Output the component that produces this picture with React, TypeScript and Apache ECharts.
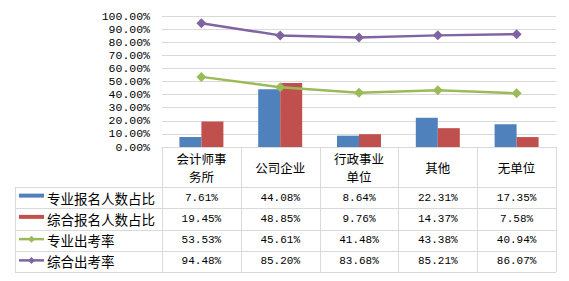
import React, { useEffect, useRef } from "react";
import * as echarts from "echarts";

const categories = ["会计师事\n务所", "公司企业", "行政事业\n单位", "其他", "无单位"];
const seriesNames = ["专业报名人数占比", "综合报名人数占比", "专业出考率", "综合出考率"];
const proApply = [7.61, 44.08, 8.64, 22.31, 17.35];
const compApply = [19.45, 48.85, 9.76, 14.37, 7.58];
const proAttend = [53.53, 45.61, 41.48, 43.38, 40.94];
const compAttend = [94.48, 85.2, 83.68, 85.21, 86.07];
const yTicks = [0, 10, 20, 30, 40, 50, 60, 70, 80, 90, 100];

const colors = ["#4F81BD", "#C0504D", "#9BBB59", "#8064A2"];

export default function App() {
  const ref = useRef<HTMLDivElement>(null);
  useEffect(() => {
    if (!ref.current) return;
    const chart = echarts.init(ref.current, null, { renderer: "svg" });
    const W = 569;
    const gL = 162, gR = 556, gT = 16, gB = 147;
    const cw = (gR - gL) / categories.length;
    const headBottom = 187;
    const tableBottom = 272;
    const rowH = (tableBottom - headBottom) / 4;
    const legL = 15;
    const lineColor = "#d9d9d9";
    const allData = [proApply, compApply, proAttend, compAttend];
    const cjk = '"Noto Sans CJK SC", sans-serif';
    const mono = '"Liberation Mono", monospace';

    const graphics: any[] = [];
    for (let r = 0; r <= 4; r++) {
      const y = Math.round(headBottom + r * rowH) + 0.5;
      graphics.push({ type: "line", shape: { x1: legL, y1: y, x2: gR, y2: y }, style: { stroke: lineColor, lineWidth: 1 }, silent: true });
    }
    for (let i = 0; i <= categories.length; i++) {
      const x = Math.round(gL + i * cw) + 0.5;
      graphics.push({ type: "line", shape: { x1: x, y1: gB, x2: x, y2: tableBottom }, style: { stroke: lineColor, lineWidth: 1 }, silent: true });
    }
    graphics.push({ type: "line", shape: { x1: legL + 0.5, y1: headBottom, x2: legL + 0.5, y2: tableBottom }, style: { stroke: lineColor, lineWidth: 1 }, silent: true });

    allData.forEach((arr, r) => {
      const cy = headBottom + (r + 0.5) * rowH;
      arr.forEach((v, i) => {
        graphics.push({
          type: "text",
          x: gL + (i + 0.5) * cw,
          y: cy,
          style: { text: v.toFixed(2) + "%", font: `11px ${mono}`, fill: "#000", textAlign: "center", textVerticalAlign: "middle", align: "center", verticalAlign: "middle" },
          silent: true,
        });
      });
      const kx1 = 19, kx2 = 44;
      if (r < 2) {
        graphics.push({ type: "rect", shape: { x: kx1, y: cy - 4, width: kx2 - kx1, height: 4 }, style: { fill: colors[r] }, silent: true });
      } else {
        graphics.push({ type: "line", shape: { x1: kx1, y1: cy - 1, x2: kx2, y2: cy - 1 }, style: { stroke: colors[r], lineWidth: 2.5 }, silent: true });
        const cx = (kx1 + kx2) / 2, c = cy - 1, d = 3.5;
        graphics.push({ type: "polygon", shape: { points: [[cx, c - d], [cx + d, c], [cx, c + d], [cx - d, c]] }, style: { fill: colors[r] }, silent: true });
      }
      graphics.push({
        type: "text",
        x: 47,
        y: cy,
        style: { text: seriesNames[r], font: `13.5px ${cjk}`, fill: "#000", textAlign: "left", textVerticalAlign: "middle", align: "left", verticalAlign: "middle" },
        silent: true,
      });
    });

    chart.setOption({
      animation: false,
      grid: { left: gL, right: W - gR, top: gT, bottom: 281 - gB, containLabel: false },
      xAxis: {
        type: "category",
        data: categories,
        axisLine: { show: true, lineStyle: { color: lineColor } },
        axisTick: { show: false },
        axisLabel: { interval: 0, margin: 20, verticalAlign: "middle", lineHeight: 18, fontSize: 12.5, color: "#000", fontFamily: cjk },
      },
      yAxis: {
        type: "value",
        min: 0,
        max: 100,
        interval: 10,
        axisLine: { show: false },
        axisTick: { show: false },
        splitLine: { lineStyle: { color: lineColor } },
        axisLabel: {
          margin: 12,
          color: "#000",
          fontSize: 11.5,
          fontFamily: mono,
          formatter: (v: number) => (yTicks.includes(v) ? v.toFixed(2) + "%" : ""),
        },
      },
      series: [
        { name: seriesNames[0], type: "bar", data: proApply, barWidth: 22, barGap: "0%", itemStyle: { color: colors[0] } },
        { name: seriesNames[1], type: "bar", data: compApply, barWidth: 22, barGap: "0%", itemStyle: { color: colors[1] } },
        { name: seriesNames[2], type: "line", data: proAttend, symbol: "diamond", symbolSize: 10, lineStyle: { width: 2.5, color: colors[2] }, itemStyle: { color: colors[2] } },
        { name: seriesNames[3], type: "line", data: compAttend, symbol: "diamond", symbolSize: 10, lineStyle: { width: 2.5, color: colors[3] }, itemStyle: { color: colors[3] } },
      ],
      graphic: graphics,
    });
    return () => chart.dispose();
  }, []);
  return <div ref={ref} style={{ width: 569, height: 281, position: "absolute", left: 0, top: 0 }} />;
}
